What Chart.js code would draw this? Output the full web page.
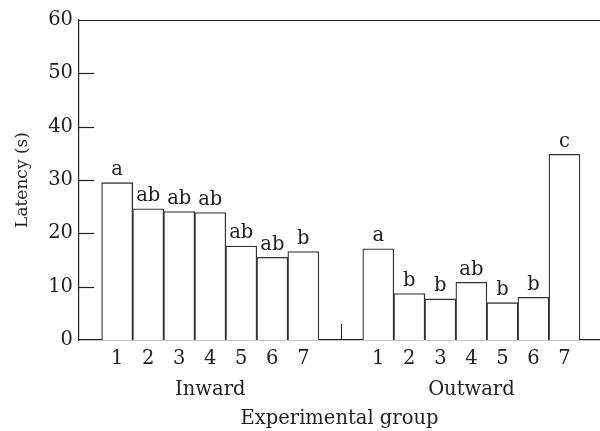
<!DOCTYPE html>
<html>
<head>
<meta charset="utf-8">
<script src="https://cdn.jsdelivr.net/npm/chart.js@4/dist/chart.umd.min.js"></script>
<style>
  html, body { margin: 0; padding: 0; background: #fff; }
</style>
</head>
<body>
<canvas id="chart" width="600" height="431"></canvas>
<script>
// data
var groupNames = ['Inward', 'Outward'];
var barLabels = ['1', '2', '3', '4', '5', '6', '7'];
var inwardLatency = [29.5, 24.6, 24.1, 23.9, 17.6, 15.5, 16.6];
var outwardLatency = [17.1, 8.7, 7.7, 10.8, 7.0, 8.0, 34.8];
var inwardLetters = ['a', 'ab', 'ab', 'ab', 'ab', 'ab', 'b'];
var outwardLetters = ['a', 'b', 'b', 'ab', 'b', 'b', 'c'];

// layout on the x axis, in bar widths
var LEFT_GAP = 0.73;
var GROUP_GAP = 1.415;
var X_MAX = 16.79;

var FONT = '"DejaVu Serif", serif';
var FONT_SIZE = 19.5;
var INK = '#231f20';

var points = [];
var letters = [];
var tickLabels = {};

function addGroup(values, marks, start, name) {
    for (var i = 0; i < values.length; i++) {
        var x = start + 0.5 + i;
        points.push({x: x, y: values[i]});
        letters.push(marks[i]);
        tickLabels[x.toFixed(3)] = i === 3 ? [barLabels[i], name] : barLabels[i];
    }
}
addGroup(inwardLatency, inwardLetters, LEFT_GAP, groupNames[0]);
addGroup(outwardLatency, outwardLetters, LEFT_GAP + 7 + GROUP_GAP, groupNames[1]);
var breakAt = LEFT_GAP + 7 + GROUP_GAP / 2;

var decorations = {
    id: 'decorations',
    afterDraw: function (chart) {
        var ctx = chart.ctx;
        var area = chart.chartArea;
        var xs = chart.scales.x;
        var ys = chart.scales.y;
        ctx.save();
        ctx.strokeStyle = INK;
        ctx.lineWidth = 1.2;
        // top frame line
        ctx.beginPath();
        ctx.moveTo(area.left, area.top + 0.5);
        ctx.lineTo(area.right, area.top + 0.5);
        ctx.stroke();
        // inward y ticks
        for (var v = 10; v <= 50; v += 10) {
            var py = Math.round(ys.getPixelForValue(v)) + 0.5;
            ctx.beginPath();
            ctx.moveTo(area.left, py);
            ctx.lineTo(area.left + 15, py);
            ctx.stroke();
        }
        // break mark between groups
        var bx = Math.round(xs.getPixelForValue(breakAt)) + 0.5;
        ctx.lineWidth = 1;
        ctx.beginPath();
        ctx.moveTo(bx, ys.getPixelForValue(0));
        ctx.lineTo(bx, ys.getPixelForValue(3));
        ctx.stroke();
        // significance letters
        ctx.fillStyle = INK;
        ctx.font = FONT_SIZE + 'px ' + FONT;
        ctx.textAlign = 'center';
        ctx.textBaseline = 'bottom';
        chart.getDatasetMeta(0).data.forEach(function (bar, i) {
            ctx.fillText(letters[i], bar.x, bar.y - 3);
        });
        ctx.restore();
    }
};

new Chart(document.getElementById('chart'), {
    type: 'bar',
    data: {
        datasets: [{
            data: points,
            backgroundColor: '#ffffff',
            borderColor: '#333333',
            borderWidth: 1.3,
            categoryPercentage: 1,
            barPercentage: 1
        }]
    },
    options: {
        responsive: false,
        animation: false,
        devicePixelRatio: 1,
        layout: {padding: {top: 20, right: 0, bottom: 0, left: 0}},
        plugins: {
            legend: {display: false},
            tooltip: {enabled: false}
        },
        scales: {
            x: {
                type: 'linear',
                offset: false,
                min: 0,
                max: X_MAX,
                grid: {display: false, drawTicks: false},
                border: {display: true, color: INK, width: 1.2},
                afterBuildTicks: function (scale) {
                    scale.ticks = points.map(function (p) { return {value: p.x}; });
                },
                afterFit: function (scale) { scale.height = 91; },
                ticks: {
                    autoSkip: false,
                    maxRotation: 0,
                    padding: 3,
                    color: INK,
                    font: {family: FONT, size: FONT_SIZE, lineHeight: 1.62},
                    callback: function (value) { return tickLabels[value.toFixed(3)]; }
                },
                title: {
                    display: true,
                    text: 'Experimental group',
                    color: INK,
                    font: {family: FONT, size: FONT_SIZE},
                    padding: {top: 0, bottom: 0}
                }
            },
            y: {
                min: 0,
                max: 60,
                grid: {display: false, drawTicks: false},
                border: {display: true, color: INK, width: 1.2},
                afterFit: function (scale) { scale.width = 79; },
                ticks: {
                    stepSize: 10,
                    padding: 6,
                    color: INK,
                    font: {family: FONT, size: FONT_SIZE}
                },
                title: {
                    display: true,
                    text: 'Latency (s)',
                    color: INK,
                    font: {family: FONT, size: 17},
                    padding: {top: 12, bottom: 0}
                }
            }
        }
    },
    plugins: [decorations]
});
</script>
</body>
</html>
